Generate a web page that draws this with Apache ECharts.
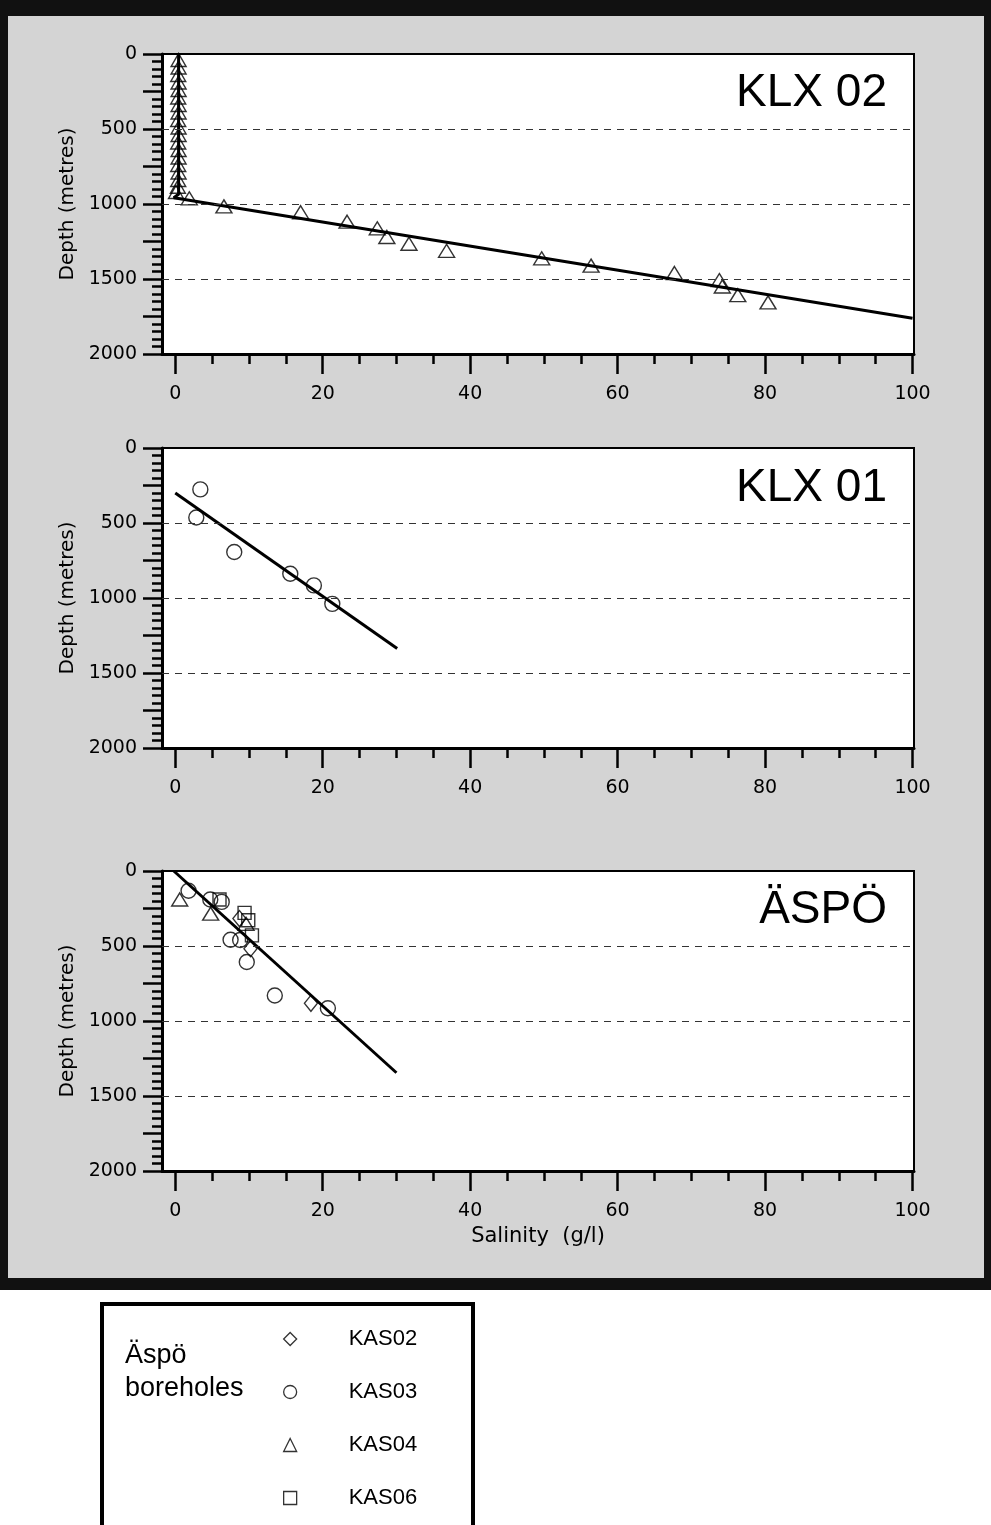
<!DOCTYPE html>
<html>
<head>
<meta charset="utf-8">
<script src="https://cdn.jsdelivr.net/npm/echarts@6/dist/echarts.min.js"></script>
<style>
  html, body { margin: 0; padding: 0; background: #fff; }
  #chart { width: 991px; height: 1525px; }
</style>
</head>
<body>
<div id="chart"></div>
<script>
// Salinity (g/l) against depth (m) in the KLX 02, KLX 01 and Äspö boreholes.

// Axis ticks and labels
const salinityTicks = [0, 20, 40, 60, 80, 100];
const salinityMinorTicks = [5, 10, 15, 25, 30, 35, 45, 50, 55, 65, 70, 75, 85, 90, 95];
const depthLabels = [0, 500, 1000, 1500, 2000];
const depthGridLines = [500, 1000, 1500];

// KLX 02 samples: [salinity, depth]
const klx02Shallow = [
  [0.45, 40], [0.45, 90], [0.4, 140], [0.45, 190], [0.45, 240], [0.4, 290],
  [0.45, 340], [0.45, 390], [0.4, 440], [0.45, 490], [0.45, 540], [0.4, 590],
  [0.45, 640], [0.45, 690], [0.4, 740], [0.45, 790], [0.4, 840], [0.35, 885], [0.1, 920]
];
const klx02Deep = [
  [1.9, 962], [6.6, 1016], [17.0, 1055], [23.3, 1118], [27.4, 1162], [28.7, 1220],
  [31.7, 1265], [36.8, 1312], [49.7, 1362], [56.4, 1411], [67.7, 1460], [73.8, 1507],
  [74.2, 1550], [76.3, 1608], [80.4, 1656]
];
const klx02Trend = [[0.45, 0], [0.45, 935], [-0.2, 958], [100, 1762]];

// KLX 01 samples
const klx01Points = [[3.4, 276], [2.85, 463], [8.0, 693], [15.6, 838], [18.8, 916], [21.3, 1039]];
const klx01Trend = [[0, 300], [30.1, 1336]];

// Äspö boreholes
const kas02 = [[8.7, 317], [10.2, 518], [18.4, 882]];
const kas03 = [[1.8, 132], [4.75, 190], [6.3, 206], [7.5, 458], [8.8, 460], [9.7, 607], [13.5, 830], [20.7, 915]];
const kas04 = [[0.6, 190], [4.8, 284], [9.6, 352]];
const kas06 = [[6.0, 190], [9.4, 279], [9.9, 328], [10.4, 429]];
const aspoTrend = [[-0.2, 0], [30, 1345]];

// ---- layout ----
const panelTops = [54, 448, 871];
const PLOT_LEFT = 162, PLOT_WIDTH = 752, PLOT_HEIGHT = 300;
const AXIS_FONT = 'DejaVu Sans';
const TITLE_FONT = 'Liberation Sans';

const grids = panelTops.map(top => ({
  left: PLOT_LEFT, top: top, width: PLOT_WIDTH, height: PLOT_HEIGHT,
  show: true, backgroundColor: '#fff', borderColor: '#000', borderWidth: 2
}));

const xAxes = [];
const yAxes = [];
panelTops.forEach((top, i) => {
  const last = i === panelTops.length - 1;
  // main salinity axis: long ticks and labels
  xAxes.push({
    type: 'value', gridIndex: i, position: 'bottom', min: -1.8, max: 100.2,
    name: last ? 'Salinity  (g/l)' : '',
    nameLocation: 'middle', nameGap: 55,
    nameTextStyle: { fontFamily: AXIS_FONT, fontSize: 21, color: '#000' },
    axisLine: { show: true, onZero: false, lineStyle: { color: '#000', width: 3 } },
    axisTick: { show: true, length: 20, customValues: salinityTicks, lineStyle: { color: '#000', width: 2.5 } },
    axisLabel: { show: true, customValues: salinityTicks, margin: 31,
      fontFamily: AXIS_FONT, fontSize: 19, color: '#000' },
    splitLine: { show: false }
  });
  // short ticks every 5 g/l
  xAxes.push({
    type: 'value', gridIndex: i, position: 'bottom', min: -1.8, max: 100.2,
    axisLine: { show: false, onZero: false },
    axisTick: { show: true, length: 10, customValues: salinityMinorTicks, lineStyle: { color: '#000', width: 2.5 } },
    axisLabel: { show: false },
    splitLine: { show: false }
  });
  yAxes.push({
    type: 'value', gridIndex: i, inverse: true, min: 0, max: 2000, interval: 250,
    name: 'Depth (metres)', nameLocation: 'middle', nameGap: 84,
    nameTextStyle: { fontFamily: AXIS_FONT, fontSize: 20, color: '#000' },
    axisLine: { show: true, onZero: false, lineStyle: { color: '#000', width: 3 } },
    axisTick: { show: true, length: 19, lineStyle: { color: '#000', width: 2.5 } },
    minorTick: { show: true, splitNumber: 5, length: 10, lineStyle: { color: '#000', width: 2.5 } },
    axisLabel: {
      margin: 25, fontFamily: AXIS_FONT, fontSize: 19, color: '#000',
      showMinLabel: true, showMaxLabel: true,
      formatter: v => (depthLabels.indexOf(v) >= 0 ? String(v) : '')
    },
    splitLine: { show: false },
    minorSplitLine: { show: false }
  });
});

const hollow = { color: 'rgba(255,255,255,0)', borderColor: '#000', borderWidth: 1.4 };
const gridMarkLine = {
  silent: true, symbol: 'none', label: { show: false },
  lineStyle: { color: '#333', width: 1.2, type: [7, 6] },
  data: depthGridLines.map(d => ({ yAxis: d }))
};

function trend(name, data, i) {
  return {
    name: name, type: 'line', xAxisIndex: i * 2, yAxisIndex: i, data: data,
    symbol: 'none', silent: true, z: 2,
    lineStyle: { color: '#000', width: 3 },
    markLine: gridMarkLine
  };
}
function points(name, data, i, symbol, size) {
  return {
    name: name, type: 'scatter', xAxisIndex: i * 2, yAxisIndex: i, data: data,
    symbol: symbol, symbolSize: size, itemStyle: hollow, z: 3
  };
}

const series = [
  trend('KLX 02 trend', klx02Trend, 0),
  points('KLX 02 upper', klx02Shallow, 0, 'triangle', [15, 13]),
  points('KLX 02 lower', klx02Deep, 0, 'triangle', [16, 13]),
  trend('KLX 01 trend', klx01Trend, 1),
  points('KLX 01', klx01Points, 1, 'circle', 15),
  trend('Äspö trend', aspoTrend, 2),
  points('KAS02', kas02, 2, 'diamond', [13, 16]),
  points('KAS03', kas03, 2, 'circle', 15),
  points('KAS04', kas04, 2, 'triangle', [16, 13]),
  points('KAS06', kas06, 2, 'rect', 13)
];

const panelNames = ['KLX 02', 'KLX 01', 'ÄSPÖ'];
const panelNameY = [93, 488, 910];

const graphic = [
  // outer frame and shaded backdrop
  { type: 'rect', z: -100, shape: { x: 0, y: 0, width: 991, height: 1290 }, style: { fill: '#111' } },
  { type: 'rect', z: -99, shape: { x: 8, y: 16, width: 976, height: 1262 }, style: { fill: '#d4d4d4' } },
  // legend box
  { type: 'rect', z: 1, shape: { x: 102, y: 1304, width: 371, height: 240 },
    style: { fill: '#fff', stroke: '#000', lineWidth: 4 } },
  { type: 'text', z: 2, x: 125, y: 1356,
    style: { text: 'Äspö', fontFamily: TITLE_FONT, fontSize: 27, fill: '#000', verticalAlign: 'middle' } },
  { type: 'text', z: 2, x: 125, y: 1389,
    style: { text: 'boreholes', fontFamily: TITLE_FONT, fontSize: 27, fill: '#000', verticalAlign: 'middle' } }
].concat(panelNames.map((t, i) => ({
  type: 'text', z: 10, x: 887, y: panelNameY[i],
  style: { text: t, fontFamily: TITLE_FONT, fontSize: 46, fill: '#000', align: 'right', verticalAlign: 'middle' }
})));

const chart = echarts.init(document.getElementById('chart'), null, { renderer: 'canvas' });
chart.setOption({
  animation: false,
  backgroundColor: '#fff',
  grid: grids,
  xAxis: xAxes,
  yAxis: yAxes,
  legend: {
    orient: 'vertical', left: 278, top: 1323, z: 5,
    itemWidth: 13, itemHeight: 13, itemGap: 31,
    symbolKeepAspect: true,
    selectedMode: false,
    data: ['KAS02', 'KAS03', 'KAS04', 'KAS06'],
    itemStyle: { color: 'rgba(255,255,255,0)', borderColor: '#000', borderWidth: 1.3 },
    textStyle: { fontFamily: TITLE_FONT, fontSize: 22, lineHeight: 22, color: '#000', padding: [0, 0, 0, 47] }
  },
  graphic: graphic,
  series: series
});
</script>
</body>
</html>
